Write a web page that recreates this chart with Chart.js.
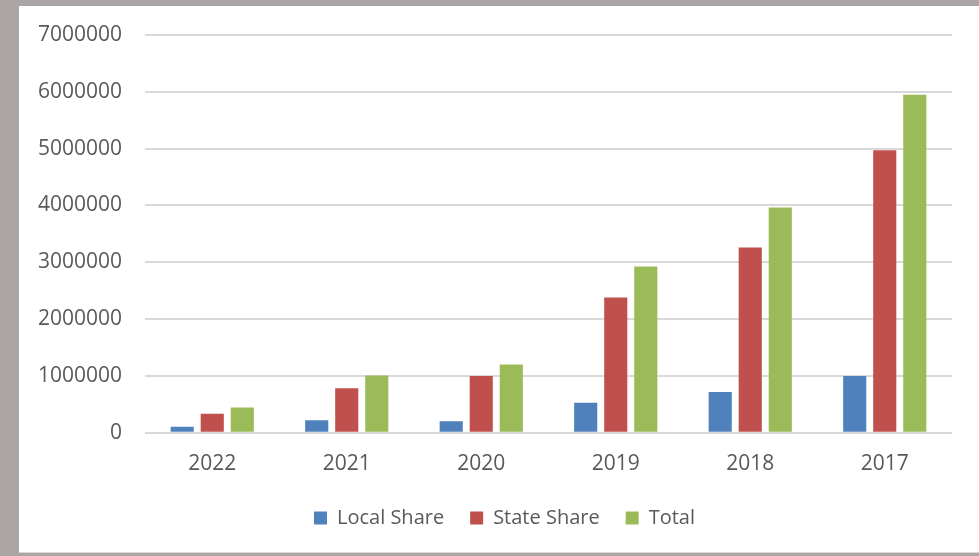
<!DOCTYPE html>
<html>
<head>
<meta charset="utf-8">
<script src="https://cdn.jsdelivr.net/npm/chart.js@4/dist/chart.umd.min.js"></script>
<style>
    html, body { margin: 0; padding: 0; }
    body { width: 979px; height: 556px; background: #aba6a5; position: relative; overflow: hidden; }
    #panel {
        position: absolute; left: 19px; top: 6px; width: 960px; height: 547px;
        background: #ffffff; border-bottom: 1px solid #d9d9d9; box-sizing: border-box;
    }
    #chart { position: absolute; left: 0; top: 0; }
</style>
</head>
<body>
<div id="panel"><canvas id="chart" width="960" height="547"></canvas></div>
<script>
// Values
const years = ["2022", "2021", "2020", "2019", "2018", "2017"];
const localShare = [105000, 220000, 205000, 530000, 720000, 1000000];
const stateShare = [335000, 785000, 1000000, 2380000, 3260000, 4970000];
const totals = [446000, 1010000, 1200000, 2925000, 3965000, 5950000];
const yTicks = [0, 1000000, 2000000, 3000000, 4000000, 5000000, 6000000, 7000000];

const textColor = "#595959";
const tickFont = { family: "'Open Sans', sans-serif", size: 21 };
const legendFont = { family: "'Open Sans', sans-serif", size: 20 };

// nudge the legend a bit, it sits off-centre in the original
const legendShift = {
    id: "legendShift",
    afterLayout(chart) {
        const lg = chart.legend;
        lg.left += 19; lg.right += 19;
        lg.top -= 6; lg.bottom -= 6;
    }
};

const ctx = document.getElementById("chart").getContext("2d");
new Chart(ctx, {
    type: "bar",
    data: {
        labels: years,
        datasets: [
            { label: "Local Share", data: localShare, backgroundColor: "#4f81bd" },
            { label: "State Share", data: stateShare, backgroundColor: "#c0504d" },
            { label: "Total", data: totals, backgroundColor: "#9bbb59" }
        ]
    },
    options: {
        responsive: false,
        animation: false,
        categoryPercentage: 0.67,
        barPercentage: 0.77,
        layout: { padding: { left: 0, right: 27, top: 29, bottom: 9 } },
        scales: {
            x: {
                grid: { display: false },
                border: { display: false },
                ticks: { color: textColor, font: tickFont, padding: 11 }
            },
            y: {
                min: 0,
                max: 7000000,
                afterFit: scale => {
                    scale.width = 126;
                    // tick padding shouldn't push the plot down
                    scale.paddingTop = 0;
                    scale.paddingBottom = 0;
                },
                afterBuildTicks: scale => { scale.ticks = yTicks.map(v => ({ value: v })); },
                grid: { color: "#d9d9d9", lineWidth: 2, drawTicks: false },
                border: { display: false },
                ticks: { color: textColor, font: tickFont, padding: 23, callback: v => String(v) }
            }
        },
        plugins: {
            legend: {
                position: "bottom",
                labels: {
                    color: textColor,
                    font: legendFont,
                    boxWidth: 13,
                    boxHeight: 13,
                    padding: 26
                }
            },
            tooltip: { enabled: false }
        }
    },
    plugins: [legendShift]
});
</script>
</body>
</html>
